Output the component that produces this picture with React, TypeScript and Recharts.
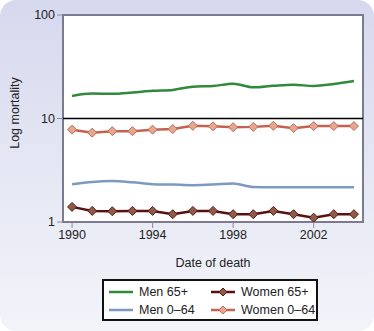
import React from 'react';
import { LineChart, Line, XAxis, YAxis, ReferenceArea, ReferenceLine } from 'recharts';

const years = [1990, 1991, 1992, 1993, 1994, 1995, 1996, 1997, 1998, 1999, 2000, 2001, 2002, 2003, 2004];
const men65 = [16.5, 17.4, 17.3, 17.8, 18.5, 18.9, 20.3, 20.6, 21.7, 20.0, 20.7, 21.2, 20.6, 21.5, 23.0];
const men064 = [2.32, 2.44, 2.49, 2.42, 2.32, 2.3, 2.27, 2.3, 2.36, 2.18, 2.17, 2.17, 2.17, 2.17, 2.17];
const women65 = [1.4, 1.28, 1.27, 1.28, 1.28, 1.19, 1.28, 1.28, 1.19, 1.19, 1.28, 1.19, 1.1, 1.19, 1.19];
const women064 = [7.8, 7.3, 7.55, 7.55, 7.8, 7.9, 8.5, 8.4, 8.25, 8.3, 8.5, 8.07, 8.45, 8.45, 8.45];
const xTicks = [1990, 1994, 1998, 2002];
const yTicks = [1, 10, 100];

const series = [
  { key: 'men65', name: 'Men 65+', color: '#2f8a3a', marker: null as null | { fill: string; stroke: string } },
  { key: 'men064', name: 'Men 0\u201364', color: '#7d99bf', marker: null },
  { key: 'women65', name: 'Women 65+', color: '#5a1010', marker: { fill: '#8f5a48', stroke: '#5a1a14' } },
  { key: 'women064', name: 'Women 0\u201364', color: '#c4624f', marker: { fill: '#e5a88e', stroke: '#c06a58' } },
];

const data = years.map((y, i) => ({
  year: y,
  men65: men65[i],
  men064: men064[i],
  women65: women65[i],
  women064: women064[i],
}));

const FONT = '"Liberation Sans", Arial, sans-serif';

const diamond = (fill: string, stroke: string) => (props: any) => {
  const { cx, cy, index } = props;
  if (cx == null || cy == null) return <g key={index} />;
  const r = 4.5;
  return (
    <path
      key={index}
      d={`M${cx},${cy - r}L${cx + r},${cy}L${cx},${cy + r}L${cx - r},${cy}Z`}
      fill={fill}
      stroke={stroke}
      strokeWidth={1}
    />
  );
};

const LegendItem = ({ s }: { s: (typeof series)[number] }) => (
  <div style={{ display: 'flex', alignItems: 'center', height: 18, whiteSpace: 'nowrap' }}>
    <svg width={24} height={12} style={{ marginRight: 6, flex: 'none' }}>
      <line x1={0} y1={6} x2={24} y2={6} stroke={s.color} strokeWidth={2.5} />
      {s.marker && (
        <path d="M12,2L16,6L12,10L8,6Z" fill={s.marker.fill} stroke={s.marker.stroke} strokeWidth={1} />
      )}
    </svg>
    <span>{s.name}</span>
  </div>
);

export default function App() {
  return (
    <div
      style={{
        position: 'fixed',
        left: 0,
        top: 0,
        width: 374,
        height: 331,
        background: '#fff',
        fontFamily: FONT,
      }}
    >
      <div
        style={{
          position: 'absolute',
          inset: 0,
          borderRadius: 16,
          background: 'linear-gradient(to bottom, #d6d9ee 0%, #e6e8f4 55%, #f3f4fa 100%)',
        }}
      />
      <div style={{ position: 'absolute', left: 0, top: 0 }}>
        <LineChart width={374} height={331} data={data} margin={{ top: 15, right: 11, bottom: 79, left: 13 }}>
          <ReferenceArea
            x1={1989.55}
            x2={2004.45}
            y1={1}
            y2={100}
            fill="#ffffff"
            fillOpacity={1}
            stroke="#7c7b8e"
            strokeWidth={2}
            ifOverflow="visible"
          />
          <XAxis
            dataKey="year"
            type="number"
            domain={[1989.55, 2004.45]}
            ticks={xTicks}
            axisLine={false}
            tickLine={{ stroke: '#8a8a9a' }}
            tickSize={6}
            height={30}
            tick={{ fill: '#222', fontSize: 12.5, fontFamily: FONT }}
            label={{ value: 'Date of death', position: 'insideBottom', offset: -15, fill: '#222', fontSize: 12.5, fontFamily: FONT }}
          />
          <YAxis
            scale="log"
            domain={[1, 100]}
            ticks={yTicks}
            allowDataOverflow
            axisLine={false}
            tickLine={{ stroke: '#8a8a9a' }}
            tickSize={6}
            width={50}
            tick={{ fill: '#222', fontSize: 12.5, fontFamily: FONT }}
            label={({ viewBox }: any) => (
              <text
                x={15}
                y={viewBox.y + 98}
                transform={`rotate(-90, 15, ${viewBox.y + 98})`}
                textAnchor="middle"
                dominantBaseline="central"
                fill="#222"
                fontSize={12.5}
                fontFamily={FONT}
              >
                Log mortality
              </text>
            )}
          />
          <ReferenceLine y={10} stroke="#000" strokeWidth={1.5} />
          {series.map((s) => (
            <Line
              key={s.key}
              dataKey={s.key}
              name={s.name}
              type={s.marker ? 'linear' : 'monotone'}
              stroke={s.color}
              strokeWidth={2.5}
              dot={s.marker ? diamond(s.marker.fill, s.marker.stroke) : false}
              activeDot={false}
              isAnimationActive={false}
            />
          ))}
        </LineChart>
      </div>
      <div
        style={{
          position: 'absolute',
          left: 102,
          top: 279,
          width: 216,
          height: 42,
          border: '2px solid #111',
          background: '#fff',
          display: 'flex',
          fontSize: 12.5,
          color: '#222',
          padding: '2px 0 0 5px',
          boxSizing: 'border-box',
        }}
      >
        <div style={{ width: 102 }}>
          <LegendItem s={series[0]} />
          <LegendItem s={series[1]} />
        </div>
        <div>
          <LegendItem s={series[2]} />
          <LegendItem s={series[3]} />
        </div>
      </div>
    </div>
  );
}
